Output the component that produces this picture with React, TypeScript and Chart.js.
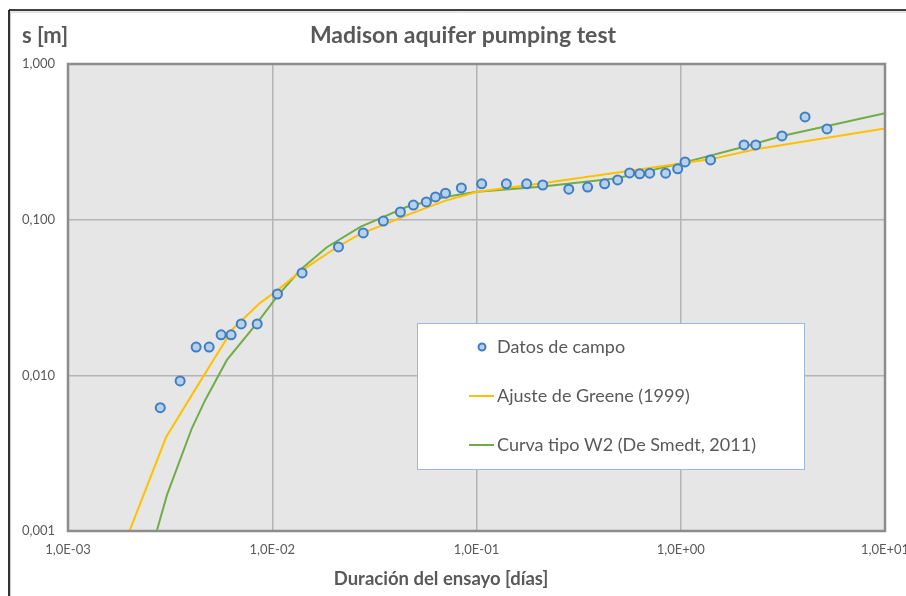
import React, { useEffect, useRef } from "react";
import { Chart, registerables } from "chart.js";

Chart.register(...registerables);

// Field data (time in days, drawdown in m)
const fieldTime = [
  0.00283, 0.00354, 0.00424, 0.00491, 0.00562, 0.00629, 0.00705, 0.00844, 0.0106, 0.0140,
  0.0211, 0.0279, 0.0350, 0.0424, 0.0491, 0.0568, 0.0630, 0.0705, 0.0843, 0.106,
  0.140, 0.176, 0.211, 0.283, 0.350, 0.424, 0.491, 0.562, 0.630, 0.705,
  0.843, 0.966, 1.05, 1.40, 2.04, 2.33, 3.13, 4.06, 5.20,
];
const fieldDrawdown = [
  0.0062, 0.0092, 0.0152, 0.0152, 0.0182, 0.0182, 0.0214, 0.0214, 0.0333, 0.0455,
  0.0668, 0.0822, 0.098, 0.112, 0.124, 0.130, 0.140, 0.148, 0.160, 0.170,
  0.170, 0.170, 0.167, 0.157, 0.162, 0.170, 0.180, 0.1995, 0.197, 0.199,
  0.199, 0.212, 0.235, 0.242, 0.302, 0.302, 0.345, 0.457, 0.383,
];

// Greene (1999) fit
const greeneTime = [0.0020, 0.00302, 0.00428, 0.00515, 0.00644, 0.00873, 0.01055, 0.0137, 0.0207, 0.0270, 0.035, 0.0457, 0.07, 0.1007, 0.206, 0.637, 1.39, 2.33, 10];
const greeneDrawdown = [0.001, 0.0040, 0.00846, 0.01256, 0.0200, 0.0292, 0.0350, 0.0464, 0.0665, 0.081, 0.0925, 0.107, 0.132, 0.151, 0.171, 0.211, 0.244, 0.283, 0.385];

// Type curve W2 (De Smedt, 2011)
const w2Time = [0.00272, 0.00305, 0.00404, 0.0047, 0.0060, 0.0084, 0.01055, 0.0137, 0.0185, 0.027, 0.0457, 0.07, 0.1007, 0.206, 0.49, 1.0, 2.04, 3.13, 10];
const w2Drawdown = [0.001, 0.0017, 0.00457, 0.00695, 0.01256, 0.0216, 0.032, 0.0475, 0.0665, 0.090, 0.121, 0.140, 0.151, 0.163, 0.1845, 0.230, 0.294, 0.345, 0.482];

const xTicks = [0.001, 0.01, 0.1, 1, 10];
const yTicks = [0.001, 0.01, 0.1, 1];

const titleText = "Madison aquifer pumping test";
const yAxisTitle = "s [m]";
const xAxisTitle = "Duración del ensayo [días]";
const seriesNames = ["Datos de campo", "Ajuste de Greene (1999)", "Curva tipo W2 (De Smedt, 2011)"];

const toXY = (xs: number[], ys: number[]) => xs.map((x, i) => ({ x, y: ys[i] }));

const fmtX = (v: number) => {
  const e = Math.round(Math.log10(v));
  const a = Math.abs(e);
  return "1,0E" + (e < 0 ? "-" : "+") + (a < 10 ? "0" + a : String(a));
};
const fmtY = (v: number) => v.toFixed(3).replace(".", ",");

const FONT = "Lato, 'Open Sans', sans-serif";
const GREY_TEXT = "#595959";
const PT_FILL = "#B7D0EC";
const PT_BORDER = "#3F7FC1";
const YELLOW = "#FFC000";
const GREEN = "#70AD47";

const decorPlugin = {
  id: "decor",
  beforeDraw(chart: any) {
    const { ctx, chartArea } = chart;
    ctx.save();
    ctx.fillStyle = "#ffffff";
    ctx.fillRect(0, 0, chart.width, chart.height);
    ctx.fillStyle = "#E6E6E6";
    ctx.fillRect(chartArea.left, chartArea.top, chartArea.right - chartArea.left, chartArea.bottom - chartArea.top);
    ctx.restore();
  },
  afterDatasetsDraw(chart: any) {
    const { ctx, chartArea } = chart;
    ctx.save();
    ctx.strokeStyle = "#8C8C8C";
    ctx.lineWidth = 2.5;
    ctx.strokeRect(chartArea.left, chartArea.top, chartArea.right - chartArea.left, chartArea.bottom - chartArea.top);
    ctx.restore();
  },
  afterDraw(chart: any) {
    const { ctx } = chart;
    ctx.save();
    // outer frame
    ctx.strokeStyle = "#C8C8C8";
    ctx.lineWidth = 1;
    ctx.beginPath();
    ctx.moveTo(10.5, 12);
    ctx.lineTo(906, 12);
    ctx.moveTo(10.5, 12);
    ctx.lineTo(10.5, 596);
    ctx.stroke();
    ctx.strokeStyle = "#000000";
    ctx.lineWidth = 1.6;
    ctx.beginPath();
    ctx.moveTo(9, 10);
    ctx.lineTo(906, 10);
    ctx.moveTo(9, 10);
    ctx.lineTo(9, 596);
    ctx.stroke();

    // titles
    ctx.fillStyle = GREY_TEXT;
    ctx.textBaseline = "middle";
    ctx.textAlign = "center";
    ctx.font = "bold 23px " + FONT;
    ctx.fillText(titleText, 463, 36);
    ctx.textAlign = "left";
    ctx.font = "bold 22px " + FONT;
    ctx.fillText(yAxisTitle, 22, 36);
    ctx.textAlign = "center";
    ctx.font = "bold 18.5px " + FONT;
    ctx.fillText(xAxisTitle, 441, 579);

    // legend box
    const lx = 417, ly = 323, lw = 387, lh = 146;
    ctx.fillStyle = "#ffffff";
    ctx.fillRect(lx, ly, lw, lh);
    ctx.strokeStyle = "#9DB9D9";
    ctx.lineWidth = 1;
    ctx.strokeRect(lx + 0.5, ly + 0.5, lw, lh);

    const rows = [347, 396, 445];
    ctx.font = "18px " + FONT;
    ctx.textAlign = "left";
    ctx.fillStyle = GREY_TEXT;
    rows.forEach((y, i) => {
      ctx.fillText(seriesNames[i], 497, y);
    });
    ctx.beginPath();
    ctx.arc(482, rows[0], 3.5, 0, Math.PI * 2);
    ctx.fillStyle = PT_FILL;
    ctx.fill();
    ctx.lineWidth = 2;
    ctx.strokeStyle = PT_BORDER;
    ctx.stroke();
    ctx.lineWidth = 2;
    ctx.strokeStyle = YELLOW;
    ctx.beginPath();
    ctx.moveTo(469, rows[1]);
    ctx.lineTo(494, rows[1]);
    ctx.stroke();
    ctx.strokeStyle = GREEN;
    ctx.beginPath();
    ctx.moveTo(469, rows[2]);
    ctx.lineTo(494, rows[2]);
    ctx.stroke();
    ctx.restore();
  },
};

export default function App() {
  const ref = useRef<HTMLCanvasElement | null>(null);

  useEffect(() => {
    document.body.style.margin = "0";
    const canvas = ref.current;
    if (!canvas) return;
    const chart = new Chart(canvas, {
      type: "scatter",
      data: {
        datasets: [
          {
            label: seriesNames[0],
            data: toXY(fieldTime, fieldDrawdown),
            showLine: false,
            pointRadius: 4.5,
            pointBackgroundColor: PT_FILL,
            pointBorderColor: PT_BORDER,
            pointBorderWidth: 2,
          },
          {
            label: seriesNames[1],
            data: toXY(greeneTime, greeneDrawdown),
            showLine: true,
            borderColor: YELLOW,
            borderWidth: 2,
            pointRadius: 0,
            tension: 0,
          },
          {
            label: seriesNames[2],
            data: toXY(w2Time, w2Drawdown),
            showLine: true,
            borderColor: GREEN,
            borderWidth: 2,
            pointRadius: 0,
            tension: 0,
          },
        ],
      },
      options: {
        responsive: false,
        animation: false,
        devicePixelRatio: 1,
        layout: { padding: { top: 64, right: 21, bottom: 0, left: 0 } },
        plugins: {
          legend: { display: false },
          title: { display: false },
          tooltip: { enabled: false },
        },
        scales: {
          x: {
            type: "logarithmic",
            min: 0.001,
            max: 10,
            border: { display: false },
            grid: { color: "#B4B4B4", lineWidth: 1.5, drawTicks: false },
            afterBuildTicks: (s: any) => {
              s.ticks = xTicks.map((v) => ({ value: v }));
            },
            afterFit: (s: any) => {
              s.height = 65;
              s.paddingLeft = 0;
              s.paddingRight = 0;
            },
            ticks: {
              autoSkip: false,
              maxRotation: 0,
              padding: 11,
              color: GREY_TEXT,
              font: { family: FONT, size: 13 },
              callback: (v: any) => fmtX(Number(v)),
            },
          },
          y: {
            type: "logarithmic",
            min: 0.001,
            max: 1,
            border: { display: false },
            grid: { color: "#B4B4B4", lineWidth: 1.5, drawTicks: false },
            afterBuildTicks: (s: any) => {
              s.ticks = yTicks.map((v) => ({ value: v }));
            },
            afterFit: (s: any) => {
              s.width = 68;
              s.paddingTop = 0;
              s.paddingBottom = 0;
            },
            ticks: {
              autoSkip: false,
              padding: 13,
              color: GREY_TEXT,
              font: { family: FONT, size: 13 },
              callback: (v: any) => fmtY(Number(v)),
            },
          },
        },
      },
      plugins: [decorPlugin],
    } as any);
    return () => chart.destroy();
  }, []);

  return (
    <div style={{ width: 906, height: 596 }}>
      <canvas ref={ref} width={906} height={596} style={{ width: 906, height: 596, display: "block" }} />
    </div>
  );
}
